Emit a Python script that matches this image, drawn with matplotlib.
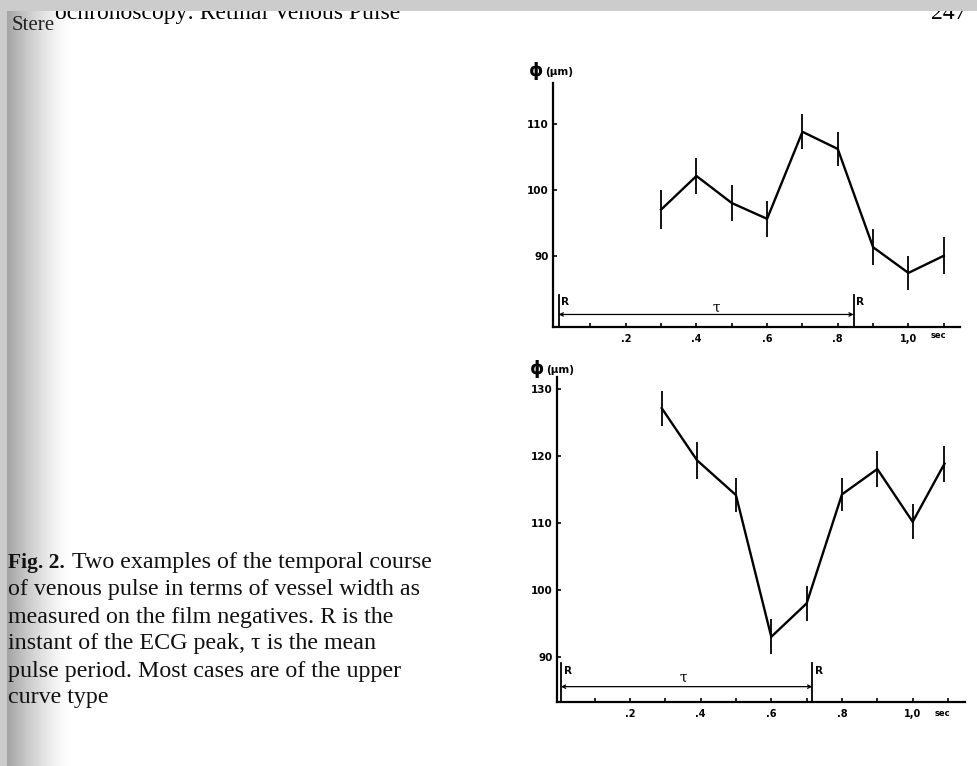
import numpy as np
import matplotlib
matplotlib.use("Agg")
import matplotlib.pyplot as plt
from matplotlib.patches import Rectangle

# ---- data ----
t_top = [0.3, 0.4, 0.5, 0.6, 0.7, 0.8, 0.9, 1.0, 1.1]
phi_top = [97.0, 102.1, 98.0, 95.6, 108.8, 106.2, 91.3, 87.4, 90.0]
err_top = [2.9, 2.7, 2.7, 2.7, 2.65, 2.6, 2.7, 2.6, 2.8]
r_top = [0.01, 0.845]

t_bot = [0.29, 0.39, 0.5, 0.6, 0.7, 0.8, 0.9, 1.0, 1.09]
phi_bot = [127.2, 119.4, 114.2, 93.0, 98.0, 114.3, 118.1, 110.2, 118.9]
err_bot = [2.6, 2.8, 2.6, 2.6, 2.6, 2.5, 2.7, 2.6, 2.7]
r_bot = [0.005, 0.716]

x_ticks = [0.1, 0.2, 0.3, 0.4, 0.5, 0.6, 0.7, 0.8, 0.9, 1.0, 1.1]
x_ticklabels = ['', '.2', '', '.4', '', '.6', '', '.8', '', '1,0', '']
y_ticks_top = [90, 100, 110]
y_ticks_bot = [90, 100, 110, 120, 130]

caption_lines = [
    "of venous pulse in terms of vessel width as",
    "measured on the film negatives. R is the",
    "instant of the ECG peak, \u03c4 is the mean",
    "pulse period. Most cases are of the upper",
    "curve type",
]

W, H = 978, 766
fig = plt.figure(figsize=(W / 100, H / 100), dpi=100)

# background / page layer in pixel coordinates
bg = fig.add_axes([0, 0, 1, 1])
bg.set_xlim(0, W)
bg.set_ylim(H, 0)
bg.axis('off')

# dithered scan shading on left edge (approximated by a gradient)
xs = np.linspace(0, 1, 200)
grad = 1 - 0.36 * np.clip(1 - xs, 0, 1) ** 1.4
img = np.tile(grad, (10, 1))
bg.imshow(img, extent=[7, 72, H, 11], cmap='gray', vmin=0, vmax=1,
          aspect='auto', zorder=0, interpolation='bilinear')

# header (partly cut by scanner band)
bg.text(12, 30, "Stere", family='Liberation Serif', fontsize=15,
        va='baseline', ha='left', zorder=2, color='#222222')
bg.text(55, 19, "ochronoscopy: Retinal Venous Pulse", family='Liberation Serif',
        fontsize=17, va='baseline', ha='left', zorder=2)
bg.text(966, 19, "247", family='Liberation Serif', fontsize=17,
        va='baseline', ha='right', zorder=2)
bg.add_patch(Rectangle((0, 0), W, 11, color='#cccccc', zorder=5, lw=0))
bg.add_patch(Rectangle((0, 0), 7, H, color='#cccccc', zorder=5, lw=0))

# caption
cap_font = dict(family='Liberation Serif', va='baseline', ha='left', color='#111111')
bg.text(8, 568, "Fig. 2.", fontweight='bold', fontsize=15.5, **cap_font)
bg.text(72, 568, "Two examples of the temporal course", fontsize=17.3, **cap_font)
for i, line in enumerate(caption_lines):
    bg.text(8, 595.5 + 27 * i, line, fontsize=17.3, **cap_font)


def make_panel(rect, xlim, ylim, t, phi, err, yticks, rt, rtop, arrow_y, tau_xy, phi_xy):
    ax = fig.add_axes(rect)
    ax.set_xlim(*xlim)
    ax.set_ylim(*ylim)
    for s in ('top', 'right'):
        ax.spines[s].set_visible(False)
    for s in ('left', 'bottom'):
        ax.spines[s].set_linewidth(1.6)
    ax.patch.set_alpha(0)
    ax.errorbar(t, phi, yerr=err, color='black', lw=1.7, elinewidth=1.3,
                capsize=0, zorder=3)
    ax.set_xticks(x_ticks)
    ax.set_xticklabels(x_ticklabels, fontsize=7, fontweight='bold')
    ax.tick_params(axis='x', direction='in', length=3, width=1.2, pad=5)
    ax.set_yticks(yticks)
    ax.set_yticklabels([str(v) for v in yticks], fontsize=7.5, fontweight='bold')
    ax.tick_params(axis='y', direction='in', length=3, width=1.2, pad=3)
    ax.text(1.085, -0.035, "sec", transform=ax.get_xaxis_transform(),
            fontsize=6, fontweight='bold', ha='center', va='center')
    # R markers
    for rx in rt:
        ax.plot([rx, rx], [ylim[0], rtop], color='black', lw=1.3, clip_on=False)
        ax.text(rx + 0.008, rtop - (rtop - ylim[0]) * 0.2, "R", fontsize=7.5,
                fontweight='bold', ha='left', va='center')
    ax.annotate('', xy=(rt[0], arrow_y), xytext=(rt[1], arrow_y),
                arrowprops=dict(arrowstyle='<->', lw=0.9, color='black',
                                shrinkA=0, shrinkB=0, mutation_scale=6))
    ax.text(tau_xy[0], tau_xy[1], "\u03c4", fontsize=10, ha='center', va='center',
            family='DejaVu Serif')
    # y label
    fx, fy = phi_xy
    bg.text(fx, fy, "\u03d5", fontsize=13, fontweight='bold', ha='left', va='center',
            family='DejaVu Sans')
    bg.text(fx + 16, fy + 1, "(\u03bcm)", fontsize=7.5, fontweight='bold', ha='left',
            va='center', family='DejaVu Sans')
    return ax


make_panel([553 / W, 1 - 327 / H, (960 - 553) / W, (327 - 83) / H],
           (-0.006, 1.146), (79.2, 116.2), t_top, phi_top, err_top, y_ticks_top,
           r_top, 84.0, 81.1, (0.457, 82.1), (529, 71))

make_panel([556.7 / W, 1 - 701.7 / H, (965 - 556.7) / W, (701.7 - 376.7) / H],
           (-0.007, 1.148), (83.3, 131.9), t_bot, phi_bot, err_bot, y_ticks_bot,
           r_bot, 89.1, 85.55, (0.35, 86.9), (530, 369))

fig.savefig("out.png", dpi=100)
